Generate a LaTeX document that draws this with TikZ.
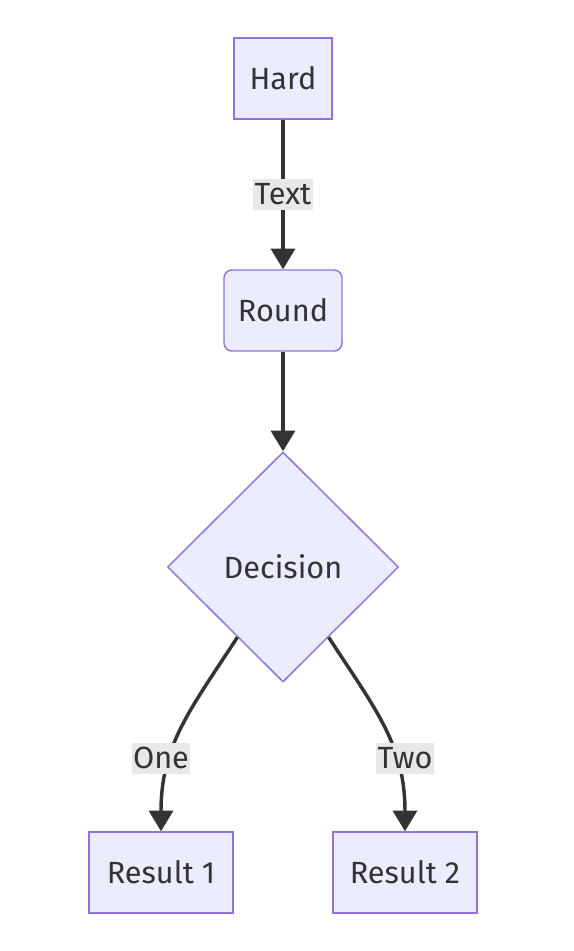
\documentclass[tikz,border=0pt]{standalone}
\usepackage{fontspec}
\setmainfont{Fira Sans}
\usetikzlibrary{shapes.geometric,arrows.meta}

\definecolor{nodofondo}{HTML}{ECECFF}
\definecolor{nodoborde}{HTML}{9370DB}
\definecolor{linea}{HTML}{333333}
\definecolor{etiqueta}{HTML}{E8E8E8}

\tikzset{
    caja/.style={draw=nodoborde, fill=nodofondo, line width=1.1pt, text=linea, inner sep=0pt, minimum height=60.75pt, font=\fontsize{23}{27}\selectfont},
    etiq/.style={fill=etiqueta, text=linea, inner xsep=1pt, inner ysep=0pt, minimum height=23.25pt, font=\fontsize{23}{27}\selectfont},
    flecha/.style={draw=linea, line width=2.6pt, -{Triangle[width=18pt,length=15.5pt]}}
}

\begin{document}
\begin{tikzpicture}[x=0.75pt, y=-0.75pt]
    \useasboundingbox (0,0) rectangle (574,951);

    % Dibuja los nodos
    \node[caja, minimum width=73.5pt] (hard) at (283,78.5) {Hard};
    \node[caja, minimum width=88.5pt, rounded corners=6pt] (round) at (283,310.5) {Round};
    \node[caja, diamond, minimum width=173.25pt, minimum height=172.5pt] (decision) at (283,567) {Decision};
    \node[caja, minimum width=108pt] (res1) at (161,872.5) {Result 1};
    \node[caja, minimum width=108pt] (res2) at (405,872.5) {Result 2};

    % Dibuja las flechas rectas
    \draw[flecha] (hard) -- (round) node[etiq, midway] (text) {Text};
    \draw[flecha] (round) -- (decision);

    % Dibuja las flechas curvas
    \draw[flecha] (decision.237) .. controls (190,710) and (161,745) .. (res1.north);
    \draw[flecha] (decision.303) .. controls (376,710) and (405,745) .. (res2.north);

    % Etiquetas de las ramas
    \node[etiq] (one) at (161,758) {One};
    \node[etiq] (two) at (405,758) {Two};
\end{tikzpicture}
\end{document}
